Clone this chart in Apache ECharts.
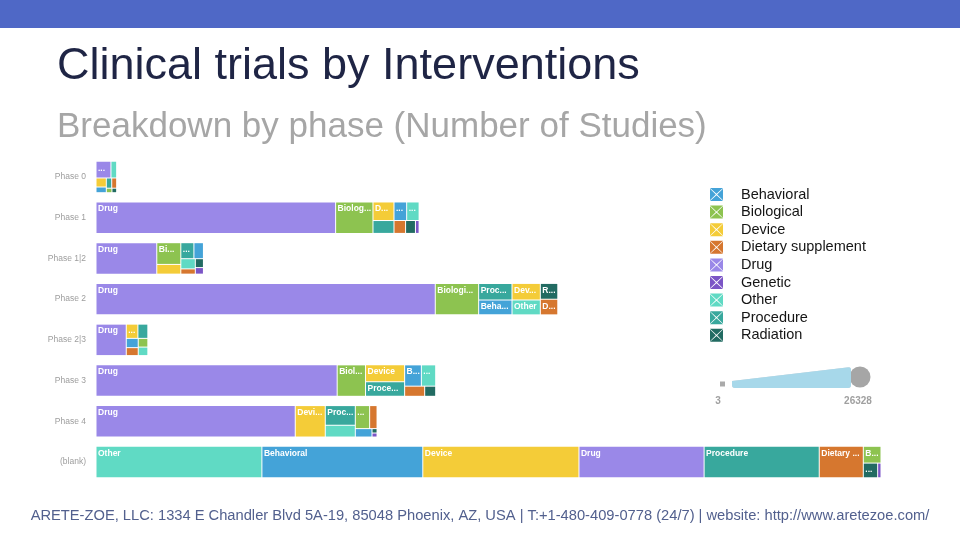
<!DOCTYPE html>
<html><head><meta charset="utf-8">
<script src="https://cdn.jsdelivr.net/npm/echarts@6/dist/echarts.min.js"></script>
<style>html,body{margin:0;padding:0;background:#fff}#c{width:960px;height:540px}</style>
</head><body><div id="c"></div>
<script>
// ---- data ----
const phases = ['Phase 0','Phase 1','Phase 1|2','Phase 2','Phase 2|3','Phase 3','Phase 4','(blank)'];
const interventions = ['Behavioral','Biological','Device','Dietary supplement','Drug','Genetic','Other','Procedure','Radiation'];
// values in the order of `interventions`
const phase0  = [144,   62,   230,   124,   616,   3,   235,   136,  52];
const phase1  = [580,   2900, 963,   369,   18600, 116, 570,   668,  314];
const phase12 = [376,   1289, 577,   188,   4717,  131, 366,   517,  178];
const phase2  = [1225,  3366, 1158,  673,   26328, 10,  1040,  1364, 681];
const phase23 = [272,   205,  406,   233,   2331,  8,   200,   347,  22];
const phase3  = [879,   2200, 1634,  502,   18706, 20,  752,   1398, 275];
const phase4  = [347,   814,  2331,  421,   15466, 50,  874,   1458, 55];
const blank   = [12489, 733,  12123, 3420,  9714,  121, 12877, 8937, 520];
const valuesByPhase = [phase0, phase1, phase12, phase2, phase23, phase3, phase4, blank];
const footerText = 'ARETE-ZOE, LLC: 1334 E Chandler Blvd 5A-19, 85048 Phoenix, AZ, USA | T:+1-480-409-0778 (24/7) | website: http://www.aretezoe.com/';

// ---- styles ----
const colors = ['#44a3d8','#8dc350','#f4cc38','#d6772f','#9a88e8','#7b55c6','#60dac4','#38a89d','#226b62'];
const FONT = 'Liberation Sans, Arial, sans-serif';
const LABEL_SIZE = 8.5;
const legendIcon = 'path://M0,0 L10,0 L5,4.5 Z M10,0.5 L10,9.5 L5.5,5 Z M0,10 L10,10 L5,5.5 Z M0,0.5 L0,9.5 L4.5,5 Z';

const totals = valuesByPhase.map(v => v.reduce((a, b) => a + b, 0));
const allVals = [].concat(...valuesByPhase);
const maxTotal = Math.max(...totals);

// label fitting: cut text and add "..." so it fits in the cell width
const mctx = document.createElement('canvas').getContext('2d');
mctx.font = 'bold ' + LABEL_SIZE + 'px ' + FONT;
function fitLabel(text, avail) {
  if (avail <= 0) return '';
  if (mctx.measureText(text).width <= avail) return text;
  for (let k = text.length - 1; k >= 0; k--) {
    const t = text.slice(0, k) + '...';
    if (mctx.measureText(t).width <= avail) return t;
  }
  return '';
}

const chart = echarts.init(document.getElementById('c'), null, {renderer: 'canvas'});

const dummySeries = interventions.map((name, i) => ({
  type: 'scatter', name, data: [], xAxisIndex: 0, yAxisIndex: 0,
  itemStyle: {color: colors[i], opacity: 1}
}));
dummySeries.push({type: 'scatter', name: 'size', data: [], xAxisIndex: 0, yAxisIndex: 0});

const baseOption = {
  animation: false,
  backgroundColor: '#fff',
  title: [
    {text: 'Clinical trials by Interventions', left: 57, top: 44, padding: 0,
     textStyle: {fontSize: 45, fontWeight: 'normal', color: '#1f2545', fontFamily: FONT}},
    {text: 'Breakdown by phase (Number of Studies)', left: 57, top: 110, padding: 0,
     textStyle: {fontSize: 35, fontWeight: 'normal', color: '#a6a6a6', fontFamily: FONT}},
    {text: footerText, left: 'center', top: 508, padding: 0,
     textStyle: {fontSize: 14.7, fontWeight: 'normal', color: '#52608e', fontFamily: FONT}}
  ],
  graphic: [
    {type: 'rect', left: 0, top: 0, shape: {width: 960, height: 28}, style: {fill: '#4f68c6'}, z: 0},
    {type: 'rect', shape: {x: 720, y: 381.5, width: 5, height: 5}, style: {fill: '#aaaaaa'}},
    {type: 'circle', shape: {cx: 860, cy: 377, r: 10.5}, style: {fill: '#a6a6a6'}},
    {type: 'text', x: 718, y: 396, style: {text: '3', fill: '#a0a0a0', font: 'bold 10px ' + FONT, textAlign: 'center'}},
    {type: 'text', x: 858, y: 396, style: {text: '26328', fill: '#a0a0a0', font: 'bold 10px ' + FONT, textAlign: 'center'}}
  ],
  grid: {left: 96, right: 79, top: 156.6, bottom: 57.6, containLabel: false},
  xAxis: {type: 'value', min: 0, max: maxTotal, show: false},
  yAxis: {
    type: 'category', data: phases, inverse: true,
    axisLine: {show: false}, axisTick: {show: false}, splitLine: {show: false},
    axisLabel: {color: '#9d9d9d', fontSize: 8.5, fontFamily: FONT, margin: 10}
  },
  legend: {
    orient: 'vertical', left: 710, top: 187, padding: 0,
    data: interventions, icon: legendIcon, itemWidth: 13, itemHeight: 13, itemGap: 2.6,
    selectedMode: false,
    textStyle: {fontSize: 14.5, color: '#151515', fontFamily: FONT, padding: [0, 0, 0, 13]}
  },
  visualMap: {
    type: 'continuous', min: Math.min(...allVals), max: Math.max(...allVals),
    seriesIndex: interventions.length, orient: 'horizontal', align: 'top',
    left: 732, top: 367, itemWidth: 21, itemHeight: 119, padding: 0,
    calculable: false, text: null, showLabel: false,
    inRange: {symbolSize: [4, 21], color: ['#a7d8ea', '#a7d8ea']}
  },
  series: dummySeries
};
chart.setOption(baseOption);

// place one treemap per phase using the axis scales
const step = Math.abs(chart.convertToPixel({yAxisIndex: 0}, 1) - chart.convertToPixel({yAxisIndex: 0}, 0));
const barH = step * 0.772;
function labelFormatter(params) {
  try {
    const s = chart.getModel().getSeriesByIndex(params.seriesIndex);
    const lay = s.getData().getItemLayout(params.dataIndex);
    if (!lay) return params.name;
    if (lay.height < 13) return '';
    return fitLabel(params.name, lay.width - 3.4);
  } catch (e) { return params.name; }
}
const treemaps = phases.map((p, i) => {
  const a = chart.convertToPixel({gridIndex: 0}, [0, i]);
  const b = chart.convertToPixel({gridIndex: 0}, [totals[i], i]);
  return {
    type: 'treemap', name: p,
    left: a[0], top: a[1] - barH / 2, width: b[0] - a[0], height: barH,
    roam: false, nodeClick: false, breadcrumb: {show: false},
    silent: true,
    label: {show: true, position: 'insideTopLeft', distance: 0, formatter: labelFormatter,
            color: '#fff', fontSize: LABEL_SIZE, fontWeight: 'bold', fontFamily: FONT,
            padding: [2, 0, 0, 1.5], overflow: 'none'},
    upperLabel: {show: false},
    itemStyle: {borderColor: '#fff', borderWidth: 0, gapWidth: 0},
    levels: [{itemStyle: {borderWidth: 0, gapWidth: 0}}, {itemStyle: {borderWidth: 0.5, borderColor: '#fff'}}],
    data: interventions.map((name, j) => ({
      name, value: valuesByPhase[i][j], itemStyle: {color: colors[j]}
    }))
  };
});
chart.setOption({series: dummySeries.concat(treemaps)});
</script>
</body></html>
